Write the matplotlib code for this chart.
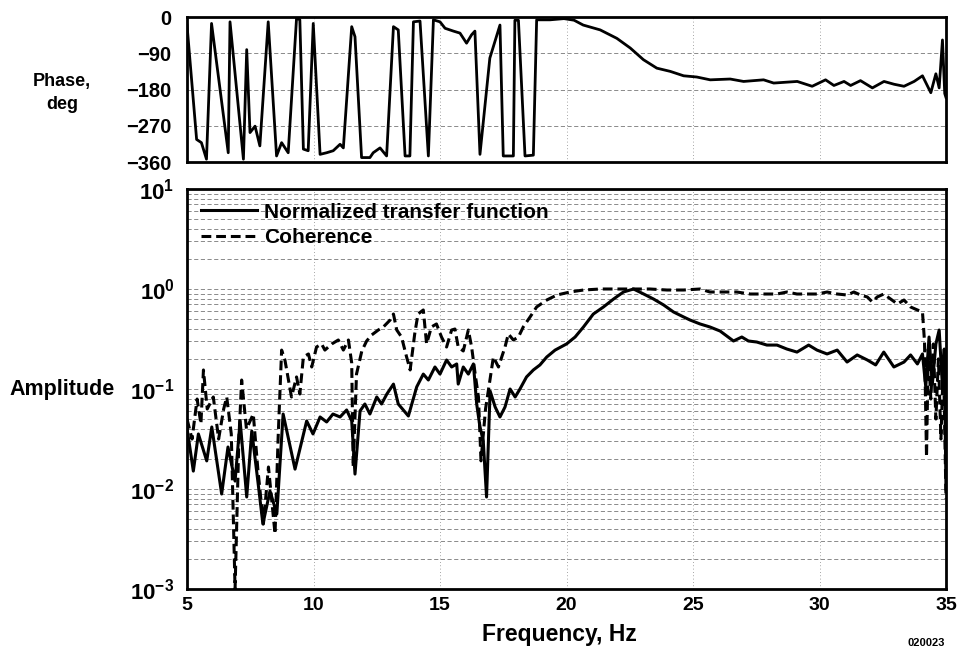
import matplotlib
matplotlib.use("Agg")
import matplotlib.pyplot as plt
from matplotlib.ticker import FixedLocator, FixedFormatter, LogLocator, NullFormatter

# ---------------- data ----------------
phase_freq = [5.0, 5.38, 5.57, 5.77, 5.97, 6.63, 6.70, 7.23, 7.36, 7.49, 7.69, 7.88,
              8.21, 8.54, 8.74, 9.0, 9.33, 9.46, 9.60, 9.79, 9.99, 10.26, 10.52, 10.78,
              11.05, 11.18, 11.51, 11.64, 11.90, 12.23, 12.36, 12.63, 12.89, 13.16, 13.35,
              13.62, 13.81, 13.95, 14.21, 14.54, 14.74, 15.0, 15.2, 15.53, 15.79, 16.05,
              16.25, 16.38, 16.58, 16.97, 17.37, 17.50, 17.90, 17.96, 18.10, 18.36, 18.69,
              18.82, 19.35, 19.9, 20.3, 20.66, 21.33, 21.99, 22.52, 23.04, 23.57, 24.10,
              24.63, 25.15, 25.68, 26.47, 27.0, 27.79, 28.19, 29.12, 29.71, 30.24, 30.57,
              30.97, 31.23, 31.62, 32.09, 32.55, 32.95, 33.34, 33.74, 34.07, 34.40, 34.60,
              34.73, 34.86, 34.95, 35.0]
phase_deg = [-20, -304, -312, -353, -16, -337, -12, -353, -81, -287, -271, -320,
             -12, -345, -312, -337, -3, -7, -328, -332, -16, -341, -337, -332,
             -316, -325, -24, -49, -349, -349, -337, -325, -345, -24, -32,
             -345, -345, -12, -10, -345, -7, -12, -28, -35, -40, -65,
             -44, -35, -341, -102, -20, -345, -345, -8, -8, -345, -343,
             -7, -7, -4, -8, -20, -32, -53, -77, -106, -127, -135,
             -146, -149, -156, -154, -160, -156, -164, -160, -172, -156, -170,
             -160, -170, -158, -176, -160, -167, -172, -160, -146, -188, -141,
             -176, -57, -190, -200]

tf_freq = [5.0, 5.25, 5.45, 5.78, 5.98, 6.37, 6.62, 6.9, 7.1, 7.36, 7.56, 7.8, 8.0,
           8.28, 8.55, 8.8, 9.27, 9.73, 9.98, 10.26, 10.52, 10.77, 11.05, 11.31, 11.51,
           11.64, 11.84, 12.03, 12.23, 12.5, 12.69, 12.9, 13.16, 13.35, 13.75, 14.08,
           14.34, 14.54, 14.8, 15.0, 15.26, 15.46, 15.66, 15.72, 15.92, 16.12, 16.32,
           16.45, 16.58, 16.71, 16.84, 16.98, 17.18, 17.37, 17.57, 17.77, 17.97, 18.16,
           18.42, 18.69, 18.95, 19.22, 19.55, 20.0, 20.34, 20.67, 21.06, 21.46, 21.86,
           22.25, 22.65, 23.05, 23.44, 23.84, 24.23, 24.63, 24.88, 25.28, 25.67, 26.07,
           26.6, 26.93, 27.19, 27.52, 27.92, 28.32, 28.71, 29.11, 29.57, 29.9, 30.3,
           30.7, 31.09, 31.49, 31.89, 32.22, 32.54, 32.94, 33.34, 33.6, 33.87, 34.07,
           34.2, 34.33, 34.46, 34.6, 34.73, 34.86, 34.93, 35.0]
tf_amp = [0.0407, 0.0151, 0.0355, 0.0191, 0.0417, 0.00891, 0.0263, 0.012, 0.0479, 0.00832,
          0.038, 0.012, 0.00447, 0.00955, 0.00562, 0.0562, 0.0158, 0.0479, 0.0355, 0.0525,
          0.0468, 0.0562, 0.0525, 0.0617, 0.0479, 0.0141, 0.0603, 0.0708, 0.0562, 0.0832,
          0.0708, 0.0891, 0.112, 0.0708, 0.0537, 0.105, 0.141, 0.123, 0.166, 0.141, 0.195,
          0.166, 0.178, 0.112, 0.166, 0.141, 0.178, 0.0708, 0.0417, 0.0302, 0.00832,
          0.0955, 0.0661, 0.0525, 0.0661, 0.1, 0.0832, 0.1, 0.132, 0.155, 0.174, 0.209,
          0.245, 0.282, 0.331, 0.417, 0.562, 0.661, 0.794, 0.933, 1.0, 0.891, 0.794, 0.692,
          0.589, 0.525, 0.49, 0.447, 0.417, 0.38, 0.302, 0.331, 0.302, 0.295, 0.275, 0.275,
          0.251, 0.234, 0.275, 0.245, 0.224, 0.245, 0.186, 0.219, 0.195, 0.174, 0.234,
          0.166, 0.186, 0.219, 0.178, 0.224, 0.105, 0.331, 0.112, 0.282, 0.389, 0.105,
          0.251, 0.01]

coh_freq = [5.0, 5.2, 5.4, 5.55, 5.65, 5.8, 6.04, 6.25, 6.45, 6.57, 6.75, 6.9, 7.05,
            7.16, 7.35, 7.62, 7.8, 8.02, 8.22, 8.48, 8.6, 8.74, 8.87, 9.13, 9.33, 9.46,
            9.6, 9.8, 9.93, 10.12, 10.32, 10.45, 10.72, 10.98, 11.18, 11.38, 11.51, 11.57,
            11.7, 11.91, 12.1, 12.3, 12.56, 12.76, 13.03, 13.16, 13.29, 13.48, 13.68,
            13.82, 14.0, 14.13, 14.34, 14.47, 14.66, 14.86, 15.06, 15.26, 15.46, 15.59,
            15.72, 15.92, 16.12, 16.25, 16.39, 16.52, 16.62, 16.8, 16.95, 17.11, 17.31,
            17.57, 17.7, 17.9, 18.1, 18.29, 18.56, 18.82, 19.22, 19.62, 20.14, 20.67,
            21.33, 22.0, 22.65, 23.3, 23.97, 24.63, 25.28, 25.67, 26.2, 26.73, 27.26,
            27.79, 28.05, 28.32, 28.71, 29.11, 29.5, 29.9, 30.3, 30.7, 31.09, 31.36,
            31.62, 31.89, 32.09, 32.28, 32.54, 32.81, 33.08, 33.34, 33.6, 33.87, 34.07,
            34.15, 34.23, 34.3, 34.4, 34.5, 34.6, 34.7, 34.8, 34.9, 35.0]
coh_amp = [0.0501, 0.0316, 0.0794, 0.0447, 0.155, 0.0631, 0.0832, 0.0316, 0.0631, 0.0832,
           0.0355, 0.001, 0.0316, 0.123, 0.0398, 0.0562, 0.0158, 0.00447, 0.0166, 0.00355,
           0.0316, 0.245, 0.195, 0.0832, 0.132, 0.0891, 0.209, 0.224, 0.166, 0.263, 0.282,
           0.245, 0.282, 0.309, 0.245, 0.309, 0.182, 0.0166, 0.141, 0.24, 0.302, 0.347,
           0.389, 0.417, 0.49, 0.562, 0.389, 0.331, 0.209, 0.155, 0.355, 0.562, 0.617,
           0.282, 0.417, 0.447, 0.331, 0.263, 0.389, 0.398, 0.263, 0.24, 0.389, 0.263,
           0.141, 0.0832, 0.0191, 0.0631, 0.112, 0.209, 0.166, 0.263, 0.355, 0.309, 0.331,
           0.417, 0.525, 0.661, 0.776, 0.871, 0.933, 0.977, 1.0, 1.0, 1.0, 1.0, 0.977,
           0.977, 1.0, 0.933, 0.933, 0.933, 0.891, 0.891, 0.891, 0.891, 0.933, 0.891,
           0.891, 0.891, 0.933, 0.891, 0.871, 0.933, 0.871, 0.832, 0.741, 0.832, 0.891,
           0.794, 0.708, 0.776, 0.661, 0.617, 0.589, 0.3, 0.0209, 0.251, 0.0794, 0.282,
           0.0501, 0.2, 0.0316, 0.2, 0.00794]

x_ticks = [5, 10, 15, 20, 25, 30, 35]
phase_ticks = [0, -90, -180, -270, -360]
phase_labels = ['0', '\u221290', '\u2212180', '\u2212270', '\u2212360']
amp_ticks = [1e1, 1e0, 1e-1, 1e-2, 1e-3]
amp_labels = [r'$\mathbf{10^{1}}$', r'$\mathbf{10^{0}}$', r'$\mathbf{10^{-1}}$',
              r'$\mathbf{10^{-2}}$', r'$\mathbf{10^{-3}}$']

# ---------------- style ----------------
plt.rcParams['font.family'] = ['Liberation Sans', 'DejaVu Sans']
plt.rcParams['font.weight'] = 'bold'
plt.rcParams['mathtext.fontset'] = 'custom'
plt.rcParams['mathtext.rm'] = 'Liberation Sans:bold'
plt.rcParams['mathtext.bf'] = 'Liberation Sans:bold'
plt.rcParams['axes.unicode_minus'] = True

W, H = 957, 654
fig = plt.figure(figsize=(W / 100, H / 100), dpi=100)

left = 187 / W
width = (946 - 187) / W
ax1 = fig.add_axes([left, 1 - 162 / H, width, (162 - 17) / H])
ax2 = fig.add_axes([left, 1 - 589 / H, width, (589 - 189) / H])

grid_kw = dict(color='#555555', linewidth=0.6, linestyle=(0, (5, 3)), alpha=0.8)
vgrid_kw = dict(color='#888888', linewidth=0.6, linestyle=(0, (1, 3)))

# phase panel
ax1.plot(phase_freq, phase_deg, color='black', linewidth=2.0, solid_joinstyle='round')
ax1.set_xlim(5, 35)
ax1.set_ylim(-360, 0)
ax1.yaxis.set_major_locator(FixedLocator(phase_ticks))
ax1.set_yticklabels(phase_labels, fontsize=14.5, fontweight='bold')
ax1.set_xticks(x_ticks)
ax1.tick_params(axis='x', labelbottom=False, length=0)
ax1.tick_params(axis='y', length=0, pad=11)
ax1.grid(True, axis='y', **grid_kw)
ax1.grid(True, axis='x', **vgrid_kw)

# amplitude panel
ax2.plot(tf_freq, tf_amp, color='black', linewidth=2.2, solid_joinstyle='round',
         label='Normalized transfer function')
ax2.plot(coh_freq, coh_amp, color='black', linewidth=2.2, linestyle=(0, (3.2, 1.6)),
         label='Coherence')
ax2.set_yscale('log')
ax2.set_xlim(5, 35)
ax2.set_ylim(1e-3, 1e1)
ax2.yaxis.set_major_locator(FixedLocator(amp_ticks))
ax2.yaxis.set_major_formatter(FixedFormatter(amp_labels))
ax2.yaxis.set_minor_locator(LogLocator(base=10, subs=[2, 3, 4, 5, 6, 7, 8, 9]))
ax2.yaxis.set_minor_formatter(NullFormatter())
ax2.set_xticks(x_ticks)
ax2.set_xticklabels([str(v) for v in x_ticks], fontsize=14, fontweight='bold')
for lab in ax2.get_yticklabels():
    lab.set_fontsize(16)
ax2.tick_params(axis='both', which='both', length=0)
ax2.tick_params(axis='y', pad=9)
ax2.tick_params(axis='x', pad=6)
ax2.grid(True, axis='y', which='both', **grid_kw)
ax2.grid(True, axis='x', which='major', **vgrid_kw)
ax2.set_xlabel('Frequency, Hz', fontsize=16.5, fontweight='bold', labelpad=1)
ax2.xaxis.set_label_coords((559 - 187) / (946 - 187), -0.085)

leg = ax2.legend(loc='upper left', frameon=False, handlelength=2.7,
                 handletextpad=0.35, labelspacing=0.3, borderaxespad=0.3,
                 borderpad=0.35, prop={'weight': 'bold', 'size': 15})

for ax in (ax1, ax2):
    for sp in ax.spines.values():
        sp.set_linewidth(2.0)
        sp.set_color('black')

fig.text(62 / W, 1 - 93 / H, 'Phase,\ndeg', ha='center', va='center', fontsize=13,
         fontweight='bold', linespacing=1.45)
fig.text(62 / W, 1 - 389 / H, 'Amplitude', ha='center', va='center', fontsize=15.5,
         fontweight='bold')
fig.text(945 / W, 1 - 643 / H, '020023', ha='right', va='center', fontsize=8,
         fontweight='bold')

fig.savefig('out.png', dpi=100)
